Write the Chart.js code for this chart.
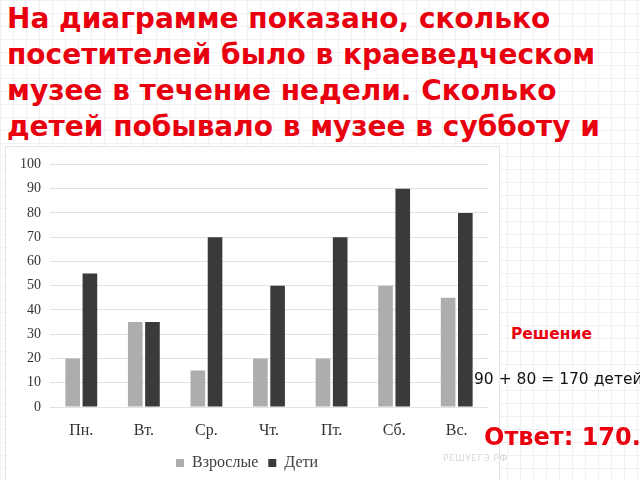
<!DOCTYPE html>
<html>
<head>
<meta charset="utf-8">
<script src="https://cdn.jsdelivr.net/npm/chart.js@4"></script>
<style>
  html, body { margin: 0; padding: 0; width: 640px; height: 480px; overflow: hidden; background: #fff; }
  body {
    position: relative;
    background-color: #fff;
    background-image:
      linear-gradient(to right, #f1f1f4 1px, transparent 1px),
      linear-gradient(to bottom, #f1f1f4 1px, transparent 1px);
    background-size: 13px 13px;
    font-family: "DejaVu Sans", sans-serif;
  }
  .title { position: absolute; left: 7px; top: 1px; color: #e8000e; font-weight: bold; font-size: 28px; line-height: 36px; white-space: nowrap; }
  #box { position: absolute; left: 5px; top: 146px; width: 493px; height: 334px; background: #fff; border: 1px solid #e4e4e4; border-bottom: none; }
  .t { position: absolute; white-space: nowrap; }
</style>
</head>
<body>
<div class="title">На диаграмме показано, сколько<br>посетителей было в краеведческом<br>музее в течение недели. Сколько<br>детей побывало в музее в субботу и</div>
<div id="box"><canvas id="c" width="493" height="334"></canvas></div>
<div class="t" style="left:511px; top:325px; color:#e8000e; font-weight:bold; font-size:15.5px;">Решение</div>
<div class="t" style="left:474px; top:370px; color:#111; font-size:15.5px;">90 + 80 = 170 детей</div>
<div class="t" style="left:484px; top:423px; color:#e8000e; font-weight:bold; font-size:24px;">Ответ: 170.</div>
<div class="t" style="left:443px; top:453px; color:#d8d8d8; font-size:9px; letter-spacing:0.5px;">РЕШУЕГЭ.РФ</div>
<script>
const categories = ["Пн.", "Вт.", "Ср.", "Чт.", "Пт.", "Сб.", "Вс."];
const adults = [20, 35, 15, 20, 20, 50, 45];
const children = [55, 35, 70, 50, 70, 90, 80];
const seriesNames = ["Взрослые", "Дети"];
const yTicks = [0, 10, 20, 30, 40, 50, 60, 70, 80, 90, 100];

const serif = "'Liberation Serif', 'Times New Roman', serif";
new Chart(document.getElementById('c'), {
  type: 'bar',
  data: {
    labels: categories,
    datasets: [
      { label: seriesNames[0], data: adults, backgroundColor: '#adadad', barPercentage: 0.85, categoryPercentage: 0.55 },
      { label: seriesNames[1], data: children, backgroundColor: '#3a3a3a', barPercentage: 0.85, categoryPercentage: 0.55 }
    ]
  },
  options: {
    responsive: false,
    animation: false,
    layout: { padding: { top: 15, right: 11, left: 0, bottom: 0 } },
    plugins: {
      legend: {
        position: 'bottom',
        labels: { boxWidth: 8, boxHeight: 8, padding: 10, color: '#404040', font: { family: serif, size: 16 } }
      },
      tooltip: { enabled: false }
    },
    scales: {
      x: {
        grid: { display: false },
        border: { display: false },
        ticks: { color: '#333333', padding: 6, font: { family: serif, size: 16 } },
        afterFit: s => { s.height = 38; }
      },
      y: {
        min: 0, max: 100,
        afterBuildTicks: s => { s.ticks = yTicks.map(v => ({ value: v })); },
        grid: { color: '#e2e2e2', drawTicks: false },
        border: { display: false },
        ticks: { color: '#333333', padding: 9, font: { family: serif, size: 14 } },
        afterFit: s => { s.width = 44; }
      }
    }
  }
});
</script>
</body>
</html>
